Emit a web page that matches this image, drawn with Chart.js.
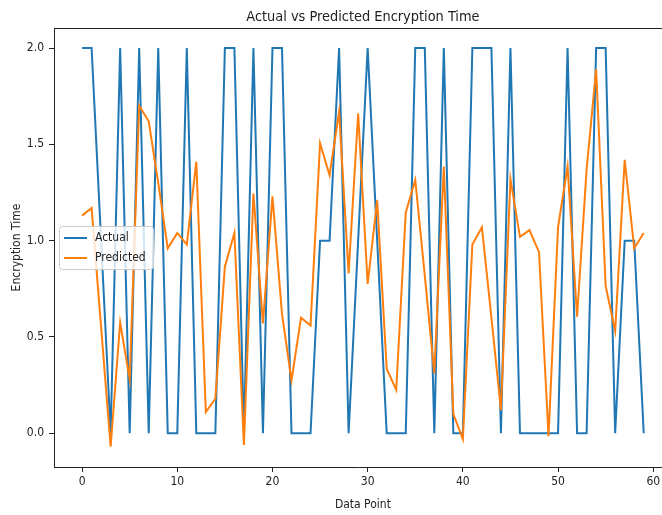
<!DOCTYPE html>
<html><head><meta charset="utf-8">
<script src="https://cdn.jsdelivr.net/npm/chart.js@4"></script>
<style>html,body{margin:0;padding:0;background:#fff;overflow:hidden}canvas{display:block}</style>
</head><body>
<canvas id="c" width="662" height="515"></canvas>
<script>
const xTicks = [0, 10, 20, 30, 40, 50, 60];
const yTicks = [0, 0.5, 1, 1.5, 2];
const actual = [2,2,1,0,2,0,2,0,2,0, 0,2,0,0,0,2,2,0,2,0, 2,2,0,0,0,1,1,2,0,1, 2,1,0,0,0,2,2,0,2,0, 0,2,2,2,0,2,0,0,0,0, 0,2,0,0,2,2,0,1,1,0];
const predicted = [1.13,1.17,0.55,-0.07,0.575,0.28,1.70,1.62,1.30,0.96,
  1.04,0.98,1.41,0.11,0.18,0.865,1.04,-0.06,1.245,0.57,
  1.23,0.62,0.275,0.60,0.56,1.505,1.34,1.67,0.83,1.66,
  0.775,1.21,0.335,0.225,1.145,1.315,0.82,0.31,1.385,0.10,
  -0.03,0.98,1.07,0.60,0.12,1.32,1.02,1.055,0.94,-0.015,
  1.07,1.385,0.605,1.37,1.89,0.765,0.53,1.42,0.96,1.04];
const seriesNames = ['Actual', 'Predicted'];
const seriesColors = ['#1f77b4', '#ff7f0e'];
const chartTitle = 'Actual vs Predicted Encryption Time';
const xTitle = 'Data Point';
const yTitle = 'Encryption Time';

const FONT = '"DejaVu Sans Condensed","DejaVu Sans",sans-serif';
const INK = '#222';
const X_MIN = -2.95, X_MAX_FULL = 61.95;

const deco = {
  id: 'deco',
  afterDraw(chart) {
    const { ctx, chartArea: a } = chart;
    const xs = chart.scales.x;
    ctx.save();
    // top spine
    ctx.strokeStyle = INK; ctx.lineWidth = 1;
    ctx.beginPath(); ctx.moveTo(a.left, a.top + 0.5); ctx.lineTo(a.right, a.top + 0.5); ctx.stroke();
    const cx = xs.getPixelForValue((X_MIN + X_MAX_FULL) / 2);
    ctx.fillStyle = INK;
    ctx.textAlign = 'center'; ctx.textBaseline = 'alphabetic';
    ctx.font = '14.4px ' + FONT;
    ctx.fillText(chartTitle, cx, 20.5);
    ctx.font = '12px ' + FONT;
    ctx.fillText(xTitle, cx, 507.5);
    ctx.save();
    ctx.translate(19.5, (a.top + a.bottom) / 2);
    ctx.rotate(-Math.PI / 2);
    ctx.fillText(yTitle, 0, 0);
    ctx.restore();
    // legend
    const lx = 59.5, ly = 226.5, lw = 94, lh = 43, r = 3;
    ctx.beginPath();
    ctx.moveTo(lx + r, ly); ctx.lineTo(lx + lw - r, ly); ctx.quadraticCurveTo(lx + lw, ly, lx + lw, ly + r);
    ctx.lineTo(lx + lw, ly + lh - r); ctx.quadraticCurveTo(lx + lw, ly + lh, lx + lw - r, ly + lh);
    ctx.lineTo(lx + r, ly + lh); ctx.quadraticCurveTo(lx, ly + lh, lx, ly + lh - r);
    ctx.lineTo(lx, ly + r); ctx.quadraticCurveTo(lx, ly, lx + r, ly);
    ctx.closePath();
    ctx.fillStyle = 'rgba(255,255,255,0.8)'; ctx.fill();
    ctx.strokeStyle = '#cccccc'; ctx.lineWidth = 1; ctx.stroke();
    chart.data.datasets.forEach((ds, i) => {
      const y = 238 + i * 20;
      ctx.strokeStyle = ds.borderColor; ctx.lineWidth = 2;
      ctx.beginPath(); ctx.moveTo(64, y); ctx.lineTo(87, y); ctx.stroke();
      ctx.fillStyle = INK; ctx.textAlign = 'left'; ctx.textBaseline = 'middle';
      ctx.font = '12px ' + FONT;
      ctx.fillText(ds.label, 95, y);
    });
    ctx.restore();
  }
};

new Chart(document.getElementById('c'), {
  type: 'line',
  data: {
    datasets: [
      { label: seriesNames[0], data: actual.map((v, i) => ({ x: i, y: v })), borderColor: seriesColors[0], backgroundColor: seriesColors[0], order: 1 },
      { label: seriesNames[1], data: predicted.map((v, i) => ({ x: i, y: v })), borderColor: seriesColors[1], backgroundColor: seriesColors[1], order: 0 }
    ]
  },
  options: {
    responsive: false, animation: false, devicePixelRatio: 1,
    layout: { padding: { top: 28, left: 0, right: 0, bottom: 0 } },
    elements: { point: { radius: 0 }, line: { tension: 0, borderWidth: 2, fill: false } },
    plugins: { legend: { display: false }, title: { display: false }, tooltip: { enabled: false } },
    scales: {
      x: {
        type: 'linear', min: X_MIN, max: 60.92,
        afterBuildTicks(s) { s.ticks = xTicks.map(v => ({ value: v })); },
        afterFit(s) { s.height = 48; s.paddingLeft = 0; s.paddingRight = 0; },
        grid: { display: true, drawOnChartArea: false, drawTicks: true, tickLength: 5, tickColor: INK, tickWidth: 1 },
        border: { display: true, color: INK, width: 1 },
        ticks: { padding: 3, color: INK, font: { family: FONT, size: 12 }, maxRotation: 0, autoSkip: false, callback: v => String(v) }
      },
      y: {
        type: 'linear', min: -0.175, max: 2.104,
        afterBuildTicks(s) { s.ticks = yTicks.map(v => ({ value: v })); },
        afterFit(s) { s.width = 54; s.paddingTop = 0; s.paddingBottom = 0; },
        grid: { display: true, drawOnChartArea: false, drawTicks: true, tickLength: 5, tickColor: INK, tickWidth: 1 },
        border: { display: true, color: INK, width: 1 },
        ticks: { padding: 5, color: INK, font: { family: FONT, size: 12 }, autoSkip: false, callback: v => Number(v).toFixed(1) }
      }
    }
  },
  plugins: [deco]
});
</script>
</body></html>
